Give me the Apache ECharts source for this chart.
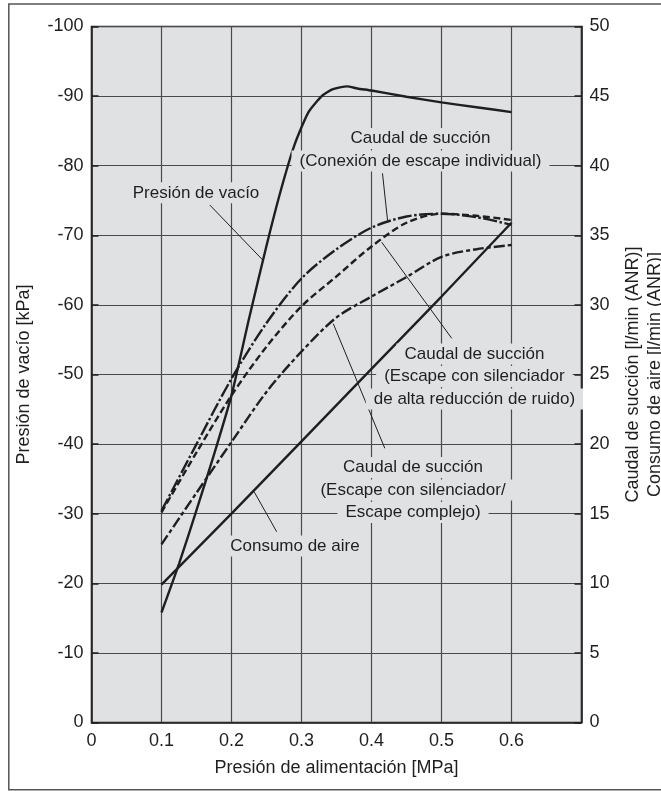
<!DOCTYPE html>
<html><head><meta charset="utf-8">
<script src="https://cdn.jsdelivr.net/npm/echarts@6/dist/echarts.min.js"></script>
<style>html,body{margin:0;padding:0;background:#fff}#c{width:661px;height:791px}</style>
</head><body><div id="c"></div>
<script>
// ---- data ----
const xTickLabels = ['0', '0.1', '0.2', '0.3', '0.4', '0.5', '0.6'];
const leftTickLabels = ['-100', '-90', '-80', '-70', '-60', '-50', '-40', '-30', '-20', '-10', '0'];
const rightTickLabels = ['0', '5', '10', '15', '20', '25', '30', '35', '40', '45', '50'];

// Vacuum pressure [kPa] vs supply pressure [MPa]
const vacuumX = [0.1, 0.125, 0.15, 0.175, 0.2, 0.225, 0.25, 0.27, 0.29, 0.31, 0.33, 0.345, 0.365, 0.38, 0.4, 0.45, 0.5, 0.55, 0.6];
const vacuumKPa = [-15.8, -22.8, -30.5, -38.5, -47.0, -58.0, -68.5, -76.3, -83.0, -87.7, -90.1, -91.0, -91.4, -91.1, -90.8, -89.9, -89.1, -88.4, -87.7];

// Suction flow [l/min (ANR)]
const flowX = [0.1, 0.15, 0.2, 0.25, 0.3, 0.35, 0.4, 0.45, 0.5, 0.55, 0.6];
const flowIndividual = [15.2, 20.0, 24.7, 28.7, 31.9, 34.0, 35.55, 36.35, 36.55, 36.3, 35.75];
const flowLowNoise = [15.1, 19.4, 23.5, 27.0, 29.9, 32.05, 34.2, 35.9, 36.55, 36.4, 36.1];
const flowSilencer = [12.8, 16.5, 20.15, 23.75, 26.65, 29.1, 30.6, 32.0, 33.45, 34.0, 34.3];

// Air consumption [l/min (ANR)]
const airX = [0.1, 0.2, 0.3, 0.4, 0.5, 0.6];
const airConsumption = [9.9, 15.0, 20.2, 25.4, 30.6, 35.9];

// ---- annotations (text anchored in data space: [MPa, kPa]) ----
const annotations = [
  { text: 'Presión de vacío', at: [0.1493, -76.1] },
  { text: 'Caudal de succión\n(Conexión de escape individual)', at: [0.470, -82.3] },
  { text: 'Caudal de succión\n(Escape con silenciador\nde alta reducción de ruido)', at: [0.547, -49.7] },
  { text: 'Caudal de succión\n(Escape con silenciador/\nEscape complejo)', at: [0.4593, -33.4] },
  { text: 'Consumo de aire', at: [0.2906, -25.35] }
];
const leaders = [
  [[0.169, -74.35], [0.2446, -66.45]],
  [[0.4157, -78.9], [0.4231, -72.0]],
  [[0.4146, -69.0], [0.5146, -55.2]],
  [[0.3454, -57.3], [0.419, -39.4]],
  [[0.2326, -33.1], [0.2646, -27.4]]
];

const zip = (xs, ys) => xs.map((x, i) => [x, ys[i]]);
const FONT = "'Liberation Sans', Arial, Helvetica, sans-serif";
const INK = '#1f1f1f';
const PLOT_BG = '#e0e1e3';
const GRID_LINE = '#4a4a4a';
const LINE_H = 22.5;

const chart = echarts.init(document.getElementById('c'), null, { renderer: 'canvas' });

const lineSeries = (name, data, yIdx, dash, smooth) => ({
  name, type: 'line', data, yAxisIndex: yIdx, symbol: 'none', smooth: smooth,
  lineStyle: { color: INK, width: 2.4, type: dash },
  z: 3
});

const option = {
  animation: false,
  backgroundColor: '#ffffff',
  grid: {
    left: 91.5, right: 79.5, top: 26.5, bottom: 68.5,
    outerBoundsMode: 'none', containLabel: false,
    show: true, backgroundColor: PLOT_BG, borderColor: INK, borderWidth: 1.5
  },
  xAxis: {
    type: 'value', min: 0, max: 0.7, interval: 0.1,
    axisLine: { show: true, lineStyle: { color: INK, width: 1.5 } },
    axisTick: { show: false },
    splitLine: { show: true, lineStyle: { color: GRID_LINE, width: 1.2 } },
    axisLabel: {
      formatter: v => xTickLabels[Math.round(v * 10)] || '',
      fontSize: 18, color: INK, margin: 10, fontFamily: FONT
    },
    name: 'Presión de alimentación [MPa]', nameLocation: 'middle', nameGap: 37,
    nameTextStyle: { fontSize: 18, color: INK, fontFamily: FONT }
  },
  yAxis: [
    {
      type: 'value', min: -100, max: 0, interval: 10, inverse: true, position: 'left',
      axisLine: { show: true, lineStyle: { color: INK, width: 1.5 } },
      axisTick: { show: true, inside: true, length: 7, lineStyle: { color: INK, width: 1.5 } },
      splitLine: { show: true, lineStyle: { color: GRID_LINE, width: 1.2 } },
      axisLabel: {
        formatter: v => leftTickLabels[Math.round((v + 100) / 10)],
        fontSize: 18, color: INK, margin: 8, fontFamily: FONT
      },
      name: 'Presión de vacío [kPa]', nameLocation: 'middle', nameGap: 58, nameRotate: 90,
      nameTextStyle: { fontSize: 18, color: INK, fontFamily: FONT }
    },
    {
      type: 'value', min: 0, max: 50, interval: 5, position: 'right',
      axisLine: { show: true, lineStyle: { color: INK, width: 1.5 } },
      axisTick: { show: true, inside: true, length: 7, lineStyle: { color: INK, width: 1.5 } },
      splitLine: { show: false },
      axisLabel: {
        formatter: v => rightTickLabels[Math.round(v / 5)],
        fontSize: 18, color: INK, margin: 8, fontFamily: FONT
      },
      name: 'Caudal de succión [l/min (ANR)]\nConsumo de aire [l/min (ANR)]',
      nameLocation: 'middle', nameGap: 41, nameRotate: 90,
      nameTextStyle: { fontSize: 18, color: INK, fontFamily: FONT, lineHeight: 21.5, align: 'center' }
    }
  ],
  series: [
    lineSeries('Presión de vacío', zip(vacuumX, vacuumKPa), 0, 'solid', 0.2),
    lineSeries('Caudal de succión (Conexión de escape individual)', zip(flowX, flowIndividual), 1, [14, 2.5, 2.5, 2.5], 0.3),
    lineSeries('Caudal de succión (alta reducción de ruido)', zip(flowX, flowLowNoise), 1, [7, 3.5], 0.3),
    lineSeries('Caudal de succión (Escape con silenciador/Escape complejo)', zip(flowX, flowSilencer), 1, [11, 3, 4, 3], 0.3),
    lineSeries('Consumo de aire', zip(airX, airConsumption), 1, 'solid', false)
  ]
};
chart.setOption(option);

const toPx = p => chart.convertToPixel({ xAxisIndex: 0, yAxisIndex: 0 }, p);
const graphics = [];
graphics.push({
  type: 'rect', silent: true, z: 0,
  shape: { x: 8.8, y: 4, width: 700, height: 785.8 },
  style: { fill: 'none', stroke: '#555555', lineWidth: 1.5 }
});
leaders.forEach(seg => {
  const a = toPx(seg[0]), b = toPx(seg[1]);
  graphics.push({
    type: 'line', silent: true, z: 4,
    shape: { x1: a[0], y1: a[1], x2: b[0], y2: b[1] },
    style: { stroke: INK, lineWidth: 1 }
  });
});
annotations.forEach(an => {
  const p = toPx(an.at);
  const lines = an.text.split('\n');
  lines.forEach((ln, i) => {
    graphics.push({
      type: 'text', silent: true, z: 5,
      x: p[0], y: p[1] + (i - (lines.length - 1) / 2) * LINE_H,
      style: {
        text: ln, fill: INK, fontSize: 17, fontFamily: FONT,
        align: 'center', verticalAlign: 'middle',
        backgroundColor: PLOT_BG, padding: [2, 8]
      }
    });
  });
});
chart.setOption({ graphic: graphics });
</script>
</body></html>
